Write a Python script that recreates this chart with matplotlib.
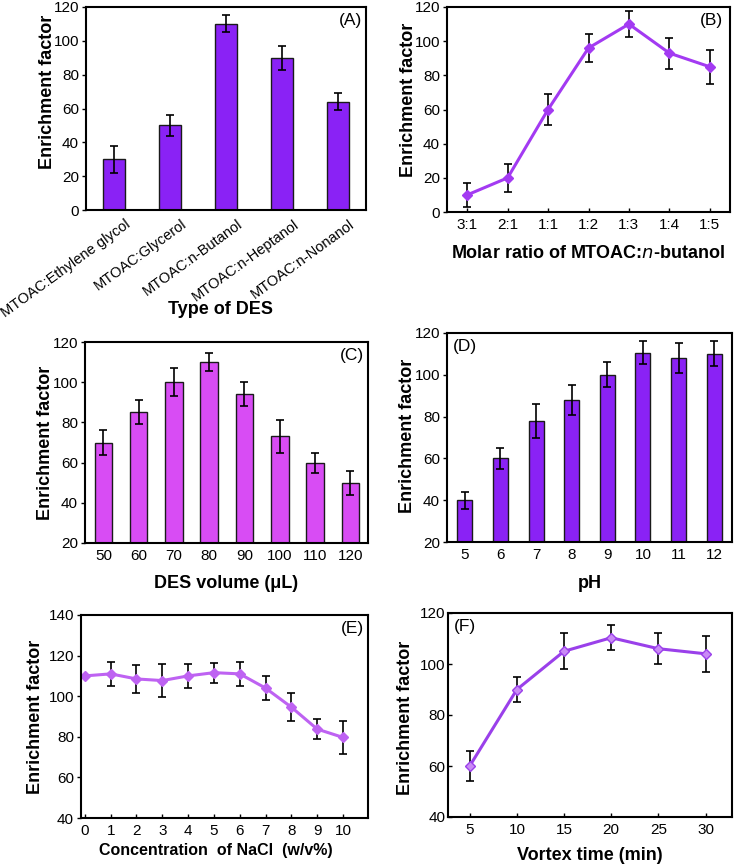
import matplotlib
matplotlib.use("Agg")
import matplotlib.pyplot as plt
import matplotlib.transforms as mtransforms
import numpy as np

plt.rcParams['font.family'] = ['Liberation Sans', 'DejaVu Sans']

# ---- data ----
des_types = ["MTOAC:Ethylene glycol", "MTOAC:Glycerol", "MTOAC:n-Butanol",
             "MTOAC:n-Heptanol", "MTOAC:n-Nonanol"]
des_ef = [30, 50, 110, 90, 64]
des_err = [8, 6, 5, 7, 5]

ratio_labels = ["3:1", "2:1", "1:1", "1:2", "1:3", "1:4", "1:5"]
ratio_ef = [10, 20, 60, 96, 110, 93, 85]
ratio_err = [7, 8, 9, 8, 7.5, 9, 10]

vol_labels = ["50", "60", "70", "80", "90", "100", "110", "120"]
vol_ef = [70, 85, 100, 110, 94, 73, 60, 50]
vol_err = [6, 6, 7, 4.5, 6, 8, 5, 6]

ph_labels = ["5", "6", "7", "8", "9", "10", "11", "12"]
ph_ef = [40, 60, 78, 88, 100, 110.5, 108, 110]
ph_err = [4, 5, 8, 7, 6, 5.5, 7, 6]

nacl = [0, 1, 2, 3, 4, 5, 6, 7, 8, 9, 10]
nacl_ef = [110, 111, 108.5, 107.7, 110, 111.6, 111, 104, 94.6, 83.8, 79.7]
nacl_err = [0, 6, 7, 8, 6, 5, 6, 6, 7, 5, 8]

vortex = [5, 10, 15, 20, 25, 30]
vortex_ef = [60, 90, 105, 110.3, 106, 104]
vortex_err = [6, 5, 7, 5, 6, 7]

W, H = 734, 867
fig = plt.figure(figsize=(W / 100, H / 100), dpi=100)


def make_ax(l, r, t, b):
    return fig.add_axes([l / W, 1 - b / H, (r - l) / W, (b - t) / H])


LBL = dict(fontsize=13, fontweight='bold')
TICK = 11
err_kw = dict(ecolor='black', elinewidth=1.2, capsize=3, capthick=1.2)


def style(ax, ylim, yticks, ydir='out', xdir='out'):
    ax.set_ylim(*ylim)
    ax.set_yticks(yticks)
    for s in ax.spines.values():
        s.set_linewidth(1.5)
    ax.tick_params(axis='y', direction=ydir, length=3, width=1, labelsize=TICK, pad=2)
    ax.tick_params(axis='x', direction=xdir, length=3, width=1, labelsize=TICK, pad=4)


# (A)
axA = make_ax(86, 366, 7, 210)
xa = np.arange(len(des_types))
axA.bar(xa, des_ef, width=0.4, color='#8A22F5', edgecolor='#1a1a1a', linewidth=1.0,
        yerr=des_err, error_kw=err_kw)
axA.set_xlim(-0.5, 4.5)
style(axA, (0, 120), range(0, 121, 20))
axA.set_xticks(xa)
axA.set_xticklabels(des_types, rotation=36, ha='right', rotation_mode='anchor', fontsize=10.5)
axA.tick_params(axis='x', length=0, pad=5)
off = mtransforms.ScaledTranslation(8 / 72, 0, fig.dpi_scale_trans)
for lab in axA.get_xticklabels():
    lab.set_transform(lab.get_transform() + off)
axA.set_xlabel("Type of DES", **LBL)
axA.xaxis.set_label_coords(0.48, -0.448)
axA.set_ylabel("Enrichment factor", **LBL)
axA.yaxis.set_label_coords(-0.107, 0.58)
axA.text(0.985, 0.97, "(A)", transform=axA.transAxes, ha='right', va='top', fontsize=12.5)

# (B)
axB = make_ax(447, 730, 7, 212)
xb = np.arange(len(ratio_labels))
axB.errorbar(xb, ratio_ef, yerr=ratio_err, color='#A33AF2', lw=2.2, marker='D', ms=5,
             **err_kw)
axB.set_xlim(-0.5, 6.5)
style(axB, (0, 120), range(0, 121, 20), xdir='in')
axB.set_xticks(xb)
axB.set_xticklabels(ratio_labels)
axB.set_xlabel("Molar ratio of MTOAC:$\\mathbf{\\it{n}}$-butanol", **LBL)
axB.xaxis.set_label_coords(0.50, -0.161)
axB.set_ylabel("Enrichment factor", **LBL)
axB.yaxis.set_label_coords(-0.106, 0.546)
axB.text(0.975, 0.97, "(B)", transform=axB.transAxes, ha='right', va='top', fontsize=12.5)

# (C)
axC = make_ax(85, 368, 342, 543)
xc = np.arange(len(vol_labels))
axC.bar(xc, vol_ef, width=0.5, color='#D84CF4', edgecolor='#1a1a1a', linewidth=1.0,
        yerr=vol_err, error_kw=err_kw)
axC.set_xlim(-0.52, 7.5)
style(axC, (20, 120), range(20, 121, 20))
axC.set_xticks(xc)
axC.set_xticklabels(vol_labels)
axC.tick_params(axis='x', length=0)
axC.set_xlabel("DES volume (μL)", **LBL)
axC.xaxis.set_label_coords(0.5, -0.159)
axC.set_ylabel("Enrichment factor", **LBL)
axC.yaxis.set_label_coords(-0.11, 0.50)
axC.text(0.985, 0.97, "(C)", transform=axC.transAxes, ha='right', va='top', fontsize=12.5)

# (D)
axD = make_ax(447, 732, 333, 542)
xd = np.arange(len(ph_labels))
axD.bar(xd, ph_ef, width=0.42, color='#8A22F5', edgecolor='#1a1a1a', linewidth=1.0,
        yerr=ph_err, error_kw=err_kw)
axD.set_xlim(-0.5, 7.5)
style(axD, (20, 120), range(20, 121, 20))
axD.set_xticks(xd)
axD.set_xticklabels(ph_labels)
axD.tick_params(axis='x', length=0)
axD.set_xlabel("pH", **LBL)
axD.xaxis.set_label_coords(0.5, -0.158)
axD.set_ylabel("Enrichment factor", **LBL)
axD.yaxis.set_label_coords(-0.109, 0.51)
axD.text(0.02, 0.97, "(D)", transform=axD.transAxes, ha='left', va='top', fontsize=12.5)

# (E)
axE = make_ax(81, 368, 615, 818)
axE.errorbar(nacl, nacl_ef, yerr=nacl_err, color='#BE62F2', lw=2.2, marker='D', ms=5,
             **err_kw)
axE.set_xlim(-0.15, 10.97)
style(axE, (40, 140), range(40, 141, 20), xdir='in')
axE.set_xticks(nacl)
axE.set_xlabel("Concentration  of NaCl  (w/v%)", fontsize=11.5, fontweight='bold')
axE.xaxis.set_label_coords(0.47, -0.123)
axE.set_ylabel("Enrichment factor", **LBL)
axE.yaxis.set_label_coords(-0.129, 0.50)
axE.text(0.985, 0.97, "(E)", transform=axE.transAxes, ha='right', va='top', fontsize=12.5)

# (F)
axF = make_ax(448, 732, 613, 817)
axF.errorbar(vortex, vortex_ef, yerr=vortex_err, color='#9A40EA', lw=2.2, marker='D', ms=5,
             markerfacecolor='#C98AF5', **err_kw)
axF.set_xlim(2.7, 32.8)
style(axF, (40, 120), range(40, 121, 20), ydir='in', xdir='in')
axF.set_xticks(vortex)
axF.set_xlabel("Vortex time (min)", **LBL)
axF.xaxis.set_label_coords(0.50, -0.147)
axF.set_ylabel("Enrichment factor", **LBL)
axF.yaxis.set_label_coords(-0.12, 0.485)
axF.text(0.02, 0.97, "(F)", transform=axF.transAxes, ha='left', va='top', fontsize=12.5)

fig.savefig("out.png", dpi=100)
